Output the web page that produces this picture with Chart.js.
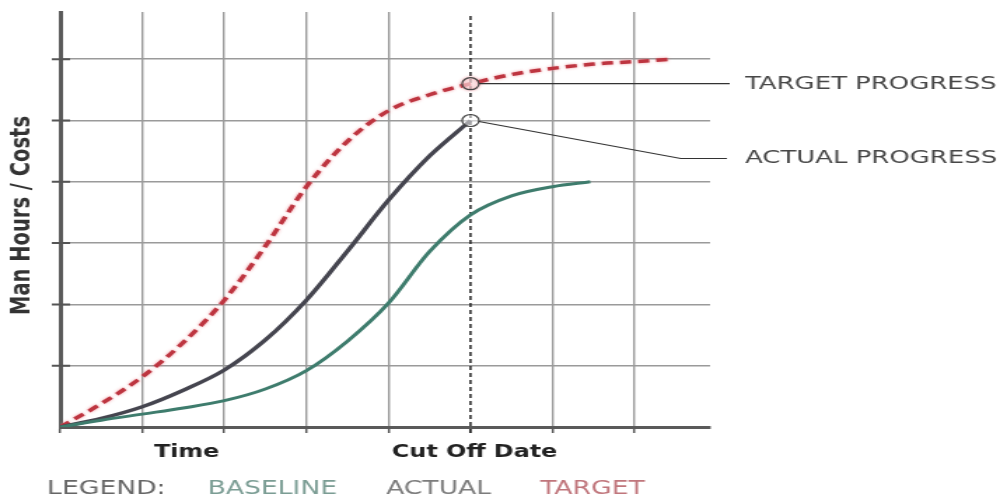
<!DOCTYPE html>
<html>
<head>
<meta charset="utf-8">
<script src="https://cdn.jsdelivr.net/npm/chart.js@4.4.1/dist/chart.umd.min.js"></script>
<style>
  html, body { margin: 0; padding: 0; background: #fff; overflow: hidden; }
  #wrap { width: 719px; height: 499px; transform: scale(1.4006, 1); transform-origin: 0 0; }
</style>
</head>
<body>
<div id="wrap"><canvas id="sCurve" width="719" height="499"></canvas></div>
<script>
// progress S-curves: time (periods) vs man hours / costs
var cutOff = 5;

var baselineT = [0, 0.5, 1, 1.5, 2, 2.5, 3, 3.5, 4, 4.5, 5, 5.5, 6, 6.46];
var baselineV = [0, 0.11, 0.21, 0.31, 0.43, 0.62, 0.92, 1.4, 2.02, 2.86, 3.46, 3.77, 3.92, 4.0];

var actualT = [0, 0.5, 1, 1.5, 2, 2.5, 3, 3.5, 4, 4.5, 5];
var actualV = [0, 0.14, 0.33, 0.6, 0.93, 1.42, 2.07, 2.87, 3.7, 4.42, 5.0];

var targetT = [0, 0.5, 1, 1.5, 2, 2.5, 3, 3.5, 4, 4.5, 5, 5.5, 6, 6.5, 7, 7.46];
var targetV = [0, 0.38, 0.82, 1.38, 2.07, 2.95, 3.92, 4.66, 5.16, 5.42, 5.6, 5.75, 5.85, 5.92, 5.96, 6.0];

var seriesNames = ["BASELINE", "ACTUAL", "TARGET"];
var legendColors = ["#7b9d94", "#7c7c7c", "#c0767c"];

var xLabels = ["Time", "Cut Off Date"];
var xLabelAt = [1.54, 5.05];
var yTitle = "Man Hours / Costs";
var calloutNames = ["TARGET PROGRESS", "ACTUAL PROGRESS"];

function pts(t, v) {
    return t.map(function (tt, i) { return { x: tt, y: v[i] }; });
}

function markAtCutOff(c) {
    return c.raw && c.raw.x === cutOff ? 6 : 0;
}

var extras = {
    id: "extras",
    beforeDatasetsDraw: function (chart) {
        var ctx = chart.ctx, a = chart.chartArea, y = chart.scales.y;
        var px = chart.scales.x.getPixelForValue(cutOff);
        ctx.save();
        // y tick marks crossing the axis
        ctx.strokeStyle = "#555";
        ctx.lineWidth = 2;
        ctx.beginPath();
        y.ticks.forEach(function (t) {
            if (t.value === 0) return;
            var py = y.getPixelForValue(t.value);
            ctx.moveTo(a.left - 6, py);
            ctx.lineTo(a.left + 7, py);
        });
        ctx.stroke();
        // cut off date marker
        ctx.strokeStyle = "#222";
        ctx.lineWidth = 1.5;
        ctx.setLineDash([4, 3]);
        ctx.beginPath();
        ctx.moveTo(px, a.top + 4);
        ctx.lineTo(px, a.bottom + 6);
        ctx.stroke();
        ctx.restore();
    },
    beforeDatasetDraw: function (chart, args) {
        chart.ctx.save();
        if (args.index === 2) {
            chart.ctx.shadowColor = "rgba(235,120,130,0.75)";
            chart.ctx.shadowBlur = 3;
        }
    },
    afterDatasetDraw: function (chart) {
        chart.ctx.restore();
    },
    afterDraw: function (chart) {
        var ctx = chart.ctx, a = chart.chartArea, x = chart.scales.x, y = chart.scales.y;
        var cx = x.getPixelForValue(cutOff);
        var ty = y.getPixelForValue(targetV[targetT.indexOf(cutOff)]);
        var ay = y.getPixelForValue(actualV[actualT.indexOf(cutOff)]);
        ctx.save();

        // callout leaders
        ctx.strokeStyle = "#333";
        ctx.lineWidth = 1.2;
        ctx.beginPath();
        ctx.moveTo(cx + 6, ty);
        ctx.lineTo(a.right + 14, ty);
        ctx.moveTo(cx + 6, ay + 1);
        ctx.lineTo(a.right - 21, ay + 38);
        ctx.lineTo(a.right + 12, ay + 38);
        ctx.stroke();

        ctx.font = '18.5px "DejaVu Sans"';
        ctx.fillStyle = "#474747";
        ctx.textAlign = "left";
        ctx.textBaseline = "middle";
        ctx.fillText(calloutNames[0], a.right + 25, ty);
        ctx.fillText(calloutNames[1], a.right + 25, ay + 38);

        // x labels
        ctx.font = 'bold 17px "DejaVu Sans"';
        ctx.fillStyle = "#222";
        ctx.textAlign = "center";
        xLabels.forEach(function (t, i) {
            ctx.fillText(t, x.getPixelForValue(xLabelAt[i]), a.bottom + 26);
        });

        // y title
        ctx.save();
        ctx.translate(16, (a.top + a.bottom) / 2 - 4);
        ctx.rotate(-Math.PI / 2);
        ctx.font = 'bold 19.5px "DejaVu Sans"';
        ctx.fillStyle = "#333";
        ctx.fillText(yTitle, 0, 0);
        ctx.restore();

        // legend row
        ctx.font = '19px "DejaVu Sans"';
        ctx.textAlign = "left";
        var lx = 33.6, ly = 489;
        ctx.fillStyle = "#666";
        ctx.fillText("LEGEND:", lx, ly);
        lx += ctx.measureText("LEGEND:").width + 30;
        seriesNames.forEach(function (n, i) {
            ctx.fillStyle = legendColors[i];
            ctx.fillText(n, lx, ly);
            lx += ctx.measureText(n).width + 35;
        });
        ctx.restore();
    }
};

new Chart("sCurve", {
    type: "line",
    data: {
        datasets: [{
            label: seriesNames[0],
            data: pts(baselineT, baselineV),
            borderColor: "#3e7c6d",
            borderWidth: 3,
            pointRadius: 0
        }, {
            label: seriesNames[1],
            data: pts(actualT, actualV),
            borderColor: "#45454f",
            borderWidth: 3.5,
            pointRadius: markAtCutOff,
            pointBackgroundColor: "rgba(255,255,255,0.5)",
            pointBorderColor: "#444",
            pointBorderWidth: 1.2
        }, {
            label: seriesNames[2],
            data: pts(targetT, targetV),
            borderColor: "#bd3540",
            borderWidth: 3.5,
            borderDash: [8, 5],
            pointRadius: markAtCutOff,
            pointBackgroundColor: "rgba(255,255,255,0.5)",
            pointBorderColor: "#444",
            pointBorderWidth: 1.2
        }]
    },
    options: {
        responsive: false,
        animation: false,
        events: [],
        layout: { padding: { left: 0, right: 212, top: 12, bottom: 0 } },
        plugins: {
            legend: { display: false },
            tooltip: { enabled: false }
        },
        elements: { line: { cubicInterpolationMode: "monotone" } },
        scales: {
            x: {
                type: "linear",
                min: 0,
                max: 7.92,
                afterFit: function (s) { s.height = 72; },
                ticks: { display: false, stepSize: 1, includeBounds: false },
                grid: {
                    color: function (c) { return c.tick && c.tick.value === cutOff ? "rgba(0,0,0,0)" : "#9a9a9a"; },
                    lineWidth: 1.4,
                    drawTicks: true,
                    tickLength: 6,
                    tickColor: "#555",
                    tickWidth: 1.5
                },
                border: { color: "#5a5a5a", width: 3 }
            },
            y: {
                min: 0,
                max: 6.77,
                afterFit: function (s) { s.width = 43; },
                ticks: { display: false, stepSize: 1, includeBounds: false },
                grid: {
                    color: "#9a9a9a",
                    lineWidth: 1.5,
                    drawTicks: false
                },
                border: { color: "#5a5a5a", width: 3 }
            }
        }
    },
    plugins: [extras]
});
</script>
</body>
</html>
